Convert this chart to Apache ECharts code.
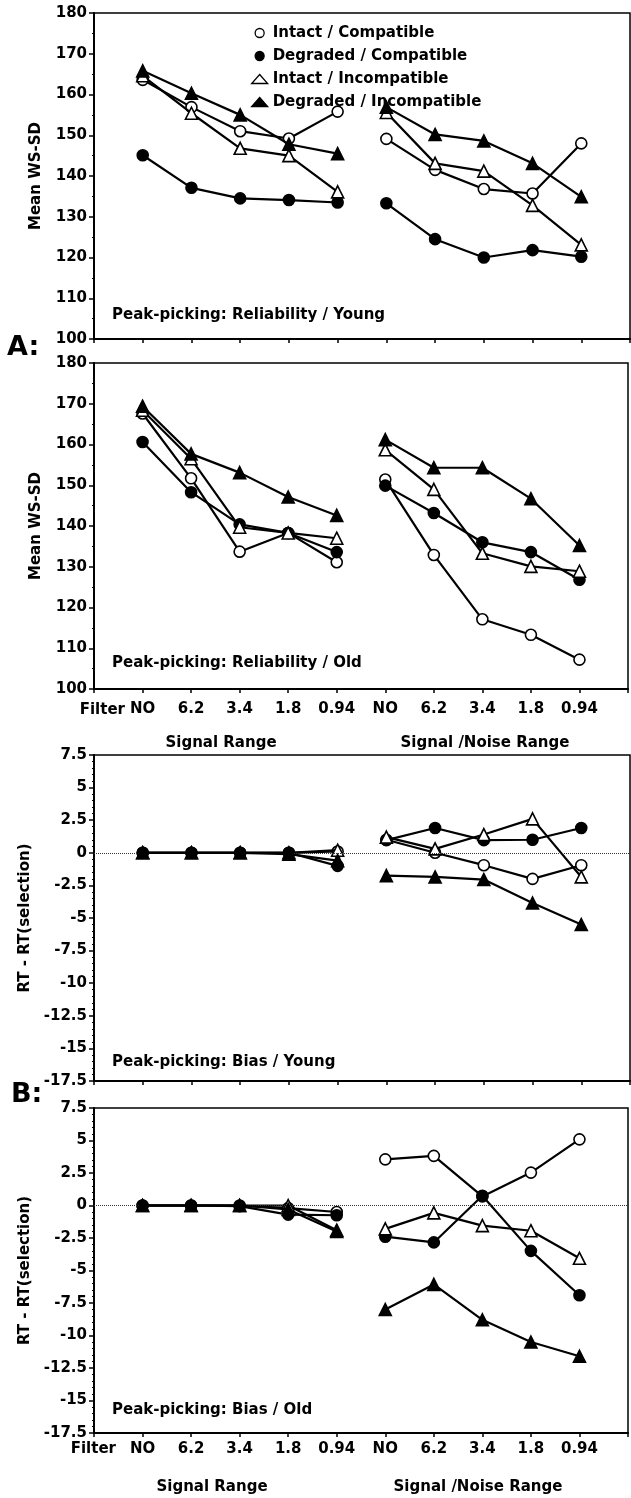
<!DOCTYPE html>
<html>
<head>
<meta charset="utf-8">
<script src="https://cdn.jsdelivr.net/npm/echarts@6/dist/echarts.min.js"></script>
<style>
  html, body { margin: 0; padding: 0; background: #fff; }
  #chart { width: 631px; height: 1498px; }
</style>
</head>
<body>
<div id="chart"></div>
<script>
// Filter settings along the x axis: Signal range (first five) then Signal/Noise range
const filterLabels = ['NO', '6.2', '3.4', '1.8', '0.94', 'NO', '6.2', '3.4', '1.8', '0.94'];
const conditionNames = ['Intact / Compatible', 'Degraded / Compatible', 'Intact / Incompatible', 'Degraded / Incompatible'];
const rangeNames = ['Signal Range', 'Signal /Noise Range'];
const panelTitles = [
  'Peak-picking: Reliability / Young',
  'Peak-picking: Reliability / Old',
  'Peak-picking: Bias / Young',
  'Peak-picking: Bias / Old'
];
const yAxisNames = ['Mean WS-SD', 'Mean WS-SD', 'RT - RT(selection)', 'RT - RT(selection)'];

// Reliability (mean within-subject SD), young listeners
const relYoungIntactCompat     = [163.6, 156.9, 151.0, 149.2, 155.8, 149.1, 141.5, 136.8, 135.7, 148.0];
const relYoungDegradedCompat   = [145.1, 137.1, 134.5, 134.1, 133.5, 133.3, 124.5, 120.0, 121.8, 120.2];
const relYoungIntactIncompat   = [164.6, 155.4, 146.8, 145.0, 136.1, 155.6, 143.1, 141.2, 132.8, 123.1];
const relYoungDegradedIncompat = [165.8, 160.3, 155.0, 147.8, 145.5, 156.9, 150.2, 148.6, 143.1, 134.9];

// Reliability, old listeners
const relOldIntactCompat     = [167.6, 151.7, 133.7, 138.3, 131.1, 151.4, 132.9, 117.1, 113.3, 107.2];
const relOldDegradedCompat   = [160.6, 148.3, 140.4, 138.3, 133.6, 149.9, 143.2, 136.0, 133.6, 126.8];
const relOldIntactIncompat   = [168.4, 156.5, 139.7, 138.3, 137.0, 158.7, 149.0, 133.3, 130.1, 128.9];
const relOldDegradedIncompat = [169.4, 157.7, 153.1, 147.1, 142.6, 161.2, 154.3, 154.3, 146.7, 135.2];

// Bias (RT - RT(selection)), young listeners
const biasYoungIntactCompat     = [0, 0, 0, 0, 0.1, 1.0, 0.0, -0.95, -2.0, -0.95];
const biasYoungDegradedCompat   = [0, 0, 0, 0, -1.0, 0.97, 1.9, 0.97, 1.0, 1.9];
const biasYoungIntactIncompat   = [0, 0, 0, 0, 0.2, 1.2, 0.3, 1.4, 2.6, -1.85];
const biasYoungDegradedIncompat = [0, 0, 0, -0.1, -0.6, -1.75, -1.85, -2.05, -3.85, -5.5];

// Bias, old listeners
const biasOldIntactCompat     = [0, 0, 0, -0.2, -0.5, 3.55, 3.82, 0.7, 2.53, 5.09];
const biasOldDegradedCompat   = [0, 0, -0.05, -0.7, -0.75, -2.4, -2.84, 0.75, -3.49, -6.9];
const biasOldIntactIncompat   = [0, 0, 0, 0, -1.9, -1.8, -0.57, -1.55, -1.94, -4.06];
const biasOldDegradedIncompat = [0, 0, 0, -0.3, -2.0, -8.0, -6.07, -8.79, -10.5, -11.6];

const panels = [
  [relYoungIntactCompat, relYoungDegradedCompat, relYoungIntactIncompat, relYoungDegradedIncompat],
  [relOldIntactCompat, relOldDegradedCompat, relOldIntactIncompat, relOldDegradedIncompat],
  [biasYoungIntactCompat, biasYoungDegradedCompat, biasYoungIntactIncompat, biasYoungDegradedIncompat],
  [biasOldIntactCompat, biasOldDegradedCompat, biasOldIntactIncompat, biasOldDegradedIncompat]
];

const FONT = '"DejaVu Sans", "Liberation Sans", sans-serif';
const BOLD15 = 'bold 15px ' + FONT;

// Plot areas for the four stacked panels
const gridBoxes = [
  { left: 94, top: 13, width: 536, height: 326 },
  { left: 94, top: 363, width: 536, height: 326 },
  { left: 94, top: 755, width: 536, height: 326 },
  { left: 94, top: 1108, width: 536, height: 325 }
];

// Marker look for each condition
const markers = [
  { symbol: 'circle', size: 11, fill: '#fff' },
  { symbol: 'circle', size: 11, fill: '#000' },
  { symbol: 'triangle', size: 12, fill: '#fff' },
  { symbol: 'triangle', size: 12, fill: '#000' }
];

const isBias = g => g >= 2;
const hasLabels = g => g === 1 || g === 3;

const grid = gridBoxes.map(b => Object.assign({
  show: true, borderColor: '#000', borderWidth: 1.5, backgroundColor: 'transparent'
}, b));

const xAxis = gridBoxes.map((b, g) => ({
  type: 'value', gridIndex: g, min: -1, max: 10, interval: 1,
  splitLine: { show: false },
  axisLine: { show: true, onZero: false, lineStyle: { color: '#000', width: 2 } },
  axisTick: { show: true, inside: false, length: 4, lineStyle: { color: '#000', width: 1.5 } },
  axisLabel: {
    show: hasLabels(g),
    margin: g === 1 ? 13 : 9,
    color: '#000', fontFamily: FONT, fontWeight: 'bold', fontSize: 15,
    formatter: v => {
      const i = Math.round(v);
      return (i >= 0 && i < filterLabels.length) ? filterLabels[i] : '';
    }
  }
}));

const yAxis = gridBoxes.map((b, g) => ({
  type: 'value', gridIndex: g,
  min: isBias(g) ? -17.5 : 100,
  max: isBias(g) ? 7.5 : 180,
  interval: isBias(g) ? 2.5 : 10,
  splitLine: { show: false },
  name: yAxisNames[g], nameLocation: 'middle', nameGap: 50,
  nameTextStyle: { color: '#000', fontFamily: FONT, fontWeight: 'bold', fontSize: 15 },
  axisLine: { show: true, onZero: false, lineStyle: { color: '#000', width: 2 } },
  axisTick: { show: true, inside: false, length: 5, lineStyle: { color: '#000', width: 1.5 } },
  minorTick: { show: true, splitNumber: isBias(g) ? 5 : 2, length: 2, lineStyle: { color: '#000', width: 1 } },
  axisLabel: { margin: 7, color: '#000', fontFamily: FONT, fontWeight: 'bold', fontSize: 15 }
}));

const series = [];
panels.forEach((conds, g) => {
  if (isBias(g)) {
    // dotted reference line at zero
    series.push({
      type: 'line', xAxisIndex: g, yAxisIndex: g, data: [], silent: true, z: 1,
      markLine: {
        silent: true, symbol: 'none', label: { show: false }, animation: false,
        lineStyle: { type: 'dotted', color: '#333', width: 1 },
        data: [{ yAxis: 0 }]
      }
    });
  }
  conds.forEach((vals, c) => {
    const m = markers[c];
    [0, 5].forEach(start => {
      series.push({
        type: 'line', name: conditionNames[c], xAxisIndex: g, yAxisIndex: g,
        data: vals.slice(start, start + 5).map((v, i) => [start + i, v]),
        symbol: m.symbol, symbolSize: m.size, showAllSymbol: true,
        itemStyle: { color: m.fill, borderColor: '#000', borderWidth: 1.6 },
        lineStyle: { color: '#000', width: 2.2 },
        emphasis: { disabled: true },
        z: 2 + c
      });
    });
  });
});

const graphic = [];
const txt = (text, x, y, align, font) => ({
  type: 'text', x, y, silent: true,
  style: { text, font: font || BOLD15, fill: '#000', textAlign: align, textVerticalAlign: 'middle', verticalAlign: 'middle' }
});
const titleY = [315, 663, 1062, 1410];
panelTitles.forEach((t, g) => graphic.push(txt(t, 112, titleY[g], 'left')));
graphic.push(txt('A:', 7, 348, 'left', 'bold 27px ' + FONT));
graphic.push(txt('B:', 11, 1095, 'left', 'bold 27px ' + FONT));
graphic.push(txt('Filter', 125, 710, 'right'));
graphic.push(txt('Filter', 116, 1449, 'right'));
graphic.push(txt(rangeNames[0], 221, 743, 'center'));
graphic.push(txt(rangeNames[1], 485, 743, 'center'));
graphic.push(txt(rangeNames[0], 212, 1487, 'center'));
graphic.push(txt(rangeNames[1], 478, 1487, 'center'));

const legend = {
  show: true, orient: 'vertical', left: 246, top: 16.5,
  itemWidth: 16, itemHeight: 9, itemGap: 0, selectedMode: false,
  symbolKeepAspect: true,
  textStyle: { color: '#000', fontFamily: FONT, fontWeight: 'bold', fontSize: 15, lineHeight: 23 },
  data: conditionNames.map((n, c) => ({
    name: n, icon: markers[c].symbol,
    itemStyle: { color: markers[c].fill, borderColor: '#000', borderWidth: 1.3 }
  }))
};

const chart = echarts.init(document.getElementById('chart'), null, { renderer: 'canvas', width: 631, height: 1498 });
chart.setOption({
  animation: false,
  backgroundColor: '#fff',
  grid, xAxis, yAxis, series, legend, graphic
});
</script>
</body>
</html>
